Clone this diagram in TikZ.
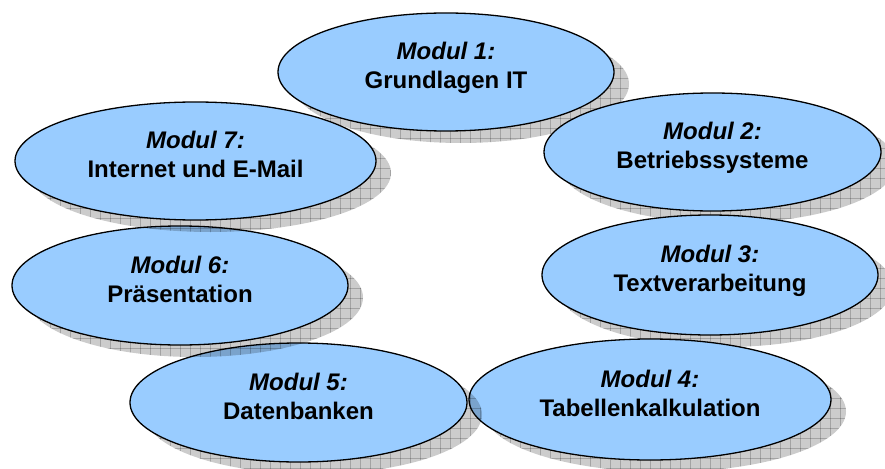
\documentclass[tikz,border=0pt]{standalone}
\usepackage{fontspec}
\setmainfont{Liberation Sans}
\usetikzlibrary{shapes.geometric,shadows,patterns}

\definecolor{modulblau}{RGB}{153,204,255}
\pgfdeclarepatternformonly{modgrid}{\pgfqpoint{-1pt}{-1pt}}{\pgfqpoint{10pt}{10pt}}{\pgfqpoint{10pt}{10pt}}{
  \pgfsetlinewidth{0.7pt}
  \pgfpathmoveto{\pgfqpoint{0pt}{0pt}}\pgfpathlineto{\pgfqpoint{10pt}{0pt}}
  \pgfpathmoveto{\pgfqpoint{0pt}{0pt}}\pgfpathlineto{\pgfqpoint{0pt}{10pt}}
  \pgfusepath{stroke}}

\begin{document}
\begin{tikzpicture}[x=1pt,y=-1pt]
              \tikzstyle{modul}=[draw,shape=ellipse,fill=modulblau,line width=1.3pt,inner sep=0pt,
                drop shadow={shadow xshift=15pt,shadow yshift=-12pt,fill=black,opacity=.2},
                drop shadow={shadow xshift=15pt,shadow yshift=-12pt,pattern=modgrid,pattern color=black,opacity=.2}];
              \tikzstyle{modtext}=[anchor=north,align=center,inner sep=0pt,
                font=\fontsize{24}{29}\selectfont\bfseries];
                \useasboundingbox (0,0) rectangle (885,468);

                \path (446,72)    node[modul,minimum width=336pt,minimum height=118pt] (1) {};
                \path (712.5,152) node[modul,minimum width=337pt,minimum height=118pt] (2) {};
                \path (710,275)   node[modul,minimum width=336pt,minimum height=120pt] (3) {};
                \path (650,399.5) node[modul,minimum width=362pt,minimum height=121pt] (4) {};
                \path (298.5,402.5) node[modul,minimum width=337pt,minimum height=119pt] (5) {};
                \path (180,285.5) node[modul,minimum width=336pt,minimum height=119pt] (6) {};
                \path (195.5,161) node[modul,minimum width=361pt,minimum height=118pt] (7) {};

                \node[modtext] (t1) at ([yshift=30pt]1.center) {\itshape Modul 1:\\Grundlagen IT};
                \node[modtext] (t2) at ([yshift=30pt]2.center) {\itshape Modul 2:\\Betriebssysteme};
                \node[modtext] (t3) at ([yshift=30pt]3.center) {\itshape Modul 3:\\Textverarbeitung};
                \node[modtext] (t4) at ([yshift=30pt]4.center) {\itshape Modul 4:\\Tabellenkalkulation};
                \node[modtext] (t5) at ([yshift=30pt]5.center) {\itshape Modul 5:\\Datenbanken};
                \node[modtext] (t6) at ([yshift=30pt]6.center) {\itshape Modul 6:\\Präsentation};
                \node[modtext] (t7) at ([yshift=30pt]7.center) {\itshape Modul 7:\\Internet und E-Mail};
            \end{tikzpicture}
\end{document}
